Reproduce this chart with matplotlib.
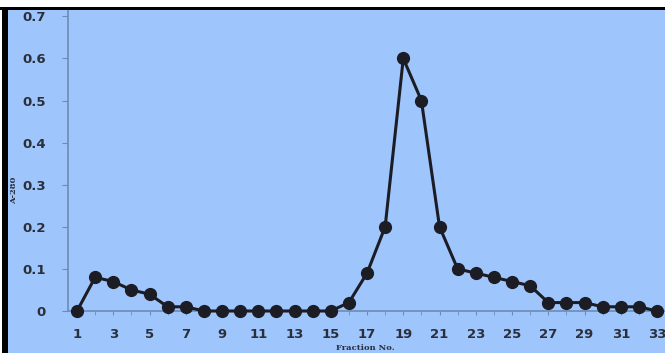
import matplotlib
matplotlib.use("Agg")
import matplotlib.pyplot as plt
from matplotlib.patches import Rectangle

fractions = list(range(1, 34))
absorbance = [0, 0.08, 0.07, 0.05, 0.04, 0.01, 0.01, 0, 0, 0,
              0, 0, 0, 0, 0, 0.02, 0.09, 0.2, 0.6, 0.5,
              0.2, 0.1, 0.09, 0.08, 0.07, 0.06, 0.02, 0.02, 0.02, 0.01,
              0.01, 0.01, 0]
yticks = [0, 0.1, 0.2, 0.3, 0.4, 0.5, 0.6, 0.7]
ytick_labels = ["0", "0.1", "0.2", "0.3", "0.4", "0.5", "0.6", "0.7"]
xtick_labels_pos = list(range(1, 34, 2))

W, H = 665, 353
bg = "#9fc5fd"
fig = plt.figure(figsize=(W / 100, H / 100), dpi=100, facecolor=bg)
ax = fig.add_axes([68 / W, (H - 311) / H, (W - 68) / W, (311 - 10) / H])
ax.set_facecolor(bg)

ax.plot(fractions, absorbance, color="#1c1c24", lw=2.2, marker="o",
        markersize=8.5, markerfacecolor="#1c1c24", markeredgecolor="#1c1c24",
        clip_on=False, zorder=3)

ax.set_xlim(0.503, 33.44)
ax.set_ylim(0, 0.7 + 9 / 417.1 * 0.7)
ax.set_yticks(yticks)
ax.set_yticklabels(ytick_labels)
ax.set_xticks(xtick_labels_pos)
ax.set_xticklabels([str(v) for v in xtick_labels_pos])
ax.set_xticks(fractions, minor=True)

for s in ["top", "right"]:
    ax.spines[s].set_visible(False)
for s in ["left", "bottom"]:
    ax.spines[s].set_color("#6d8cb5")
    ax.spines[s].set_linewidth(1.2)

ax.tick_params(axis="y", length=4, color="#6d8cb5", pad=12,
               labelsize=9.5, labelcolor="#2a2f3a")
ax.tick_params(axis="x", which="both", length=3, color="#6d8cb5", pad=9,
               labelsize=9.5, labelcolor="#2a2f3a")
for lbl in ax.get_xticklabels() + ax.get_yticklabels():
    lbl.set_fontweight("bold")
    lbl.set_family("DejaVu Sans")

fig.text(365 / W, 1 - 348 / H, "Fraction No.", ha="center", va="center",
         fontsize=6, fontweight="bold", family="DejaVu Serif", color="#2a2f3a")
fig.text(14 / W, 1 - 190 / H, "A-280", ha="center", va="center",
         rotation=90, fontsize=6, fontweight="bold", family="DejaVu Serif",
         color="#2a2f3a")

# white strips and black frame edges
fig.add_artist(Rectangle((0, (H - 7) / H), 1, 7 / H, transform=fig.transFigure,
                         facecolor="white", edgecolor="none", zorder=10))
fig.add_artist(Rectangle((0, 0), 2 / W, 1, transform=fig.transFigure,
                         facecolor="white", edgecolor="none", zorder=10))
fig.add_artist(Rectangle((0, (H - 10) / H), 1, 3 / H, transform=fig.transFigure,
                         facecolor="black", edgecolor="none", zorder=11))
fig.add_artist(Rectangle((2 / W, 0), 6 / W, (H - 7) / H, transform=fig.transFigure,
                         facecolor="black", edgecolor="none", zorder=11))

fig.savefig("out.png", dpi=100, facecolor=bg)
